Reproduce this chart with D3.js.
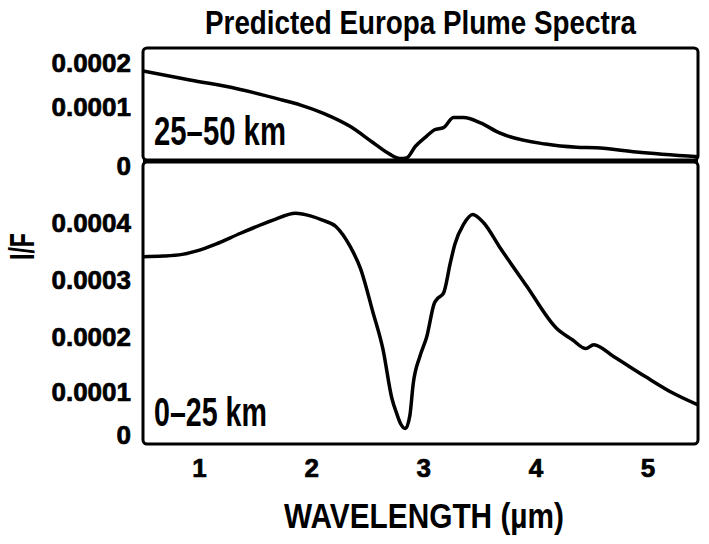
<!DOCTYPE html>
<html><head><meta charset="utf-8">
<script src="https://cdn.jsdelivr.net/npm/d3@7/dist/d3.min.js"></script>
<style>body{margin:0;background:#fff}</style>
</head><body><svg id="chart" width="709" height="544"></svg>
<script>
const title = "Predicted Europa Plume Spectra";
const xTitle = "WAVELENGTH (\u00b5m)";
const yTitle = "I/F";
const xTicks = [1, 2, 3, 4, 5];
const topTicks = [0, 0.0001, 0.0002];
const topTickLabels = ["0", "0.0001", "0.0002"];
const bottomTicks = [0, 0.0001, 0.0002, 0.0003, 0.0004];
const bottomTickLabels = ["0", "0.0001", "0.0002", "0.0003", "0.0004"];
const topLabel = "25\u201350 km";
const bottomLabel = "0\u201325 km";

const topWavelength = [0.50, 0.93, 1.33, 1.74, 1.90, 2.11, 2.35, 2.55, 2.70, 2.79, 2.85, 2.93, 3.03, 3.10, 3.18, 3.27, 3.36, 3.51, 3.68, 4.09, 4.37, 4.54, 4.90, 5.45];
const topIF = [0.000182, 0.000161, 0.000142, 0.000116, 0.000105, 0.000088, 0.000063, 0.000033, 0.000011, 0.000003, 0.000004, 0.000026, 0.000045, 0.000057, 0.000061, 0.000080, 0.000080, 0.000070, 0.000051, 0.000030, 0.000024, 0.000023, 0.000015, 0.000006];

const bottomWavelength = [0.50, 0.68, 0.85, 0.98, 1.15, 1.37, 1.66, 1.86, 2.00, 2.10, 2.22, 2.35, 2.44, 2.55, 2.64, 2.72, 2.76, 2.80, 2.84, 2.88, 2.91, 2.97, 3.03, 3.10, 3.13, 3.18, 3.24, 3.28, 3.36, 3.44, 3.54, 3.68, 3.92, 4.19, 4.33, 4.45, 4.52, 4.70, 4.98, 5.23, 5.45];
const bottomIF = [0.000341, 0.000342, 0.000345, 0.000351, 0.000363, 0.000382, 0.000405, 0.000417, 0.000412, 0.000405, 0.000394, 0.000358, 0.000320, 0.000244, 0.000178, 0.000085, 0.000052, 0.000025, 0.000015, 0.000045, 0.000115, 0.000165, 0.000200, 0.000260, 0.000268, 0.000277, 0.000329, 0.000362, 0.000398, 0.000415, 0.000400, 0.000358, 0.000290, 0.000215, 0.000195, 0.000179, 0.000186, 0.000164, 0.000128, 0.000097, 0.000070];

const svg = d3.select("#chart");
const L = 143, R = 698, T = 48, MID = 161, B = 444;
const x = d3.scaleLinear().domain([0.5, 5.45]).range([L, R]);
const yTop = d3.scaleLinear().domain(topTicks).range([160, 107, 63]);
const yBot = d3.scaleLinear().domain(bottomTicks).range([435, 392, 337, 280, 223]);

const defs = svg.append("defs");
defs.append("clipPath").attr("id", "clipTop").append("rect").attr("x", L).attr("y", T).attr("width", R - L).attr("height", MID - T + 1);
defs.append("clipPath").attr("id", "clipBot").append("rect").attr("x", L).attr("y", MID).attr("width", R - L).attr("height", B - MID);

const condensed = "'Liberation Sans', Arial, sans-serif";

// condensed text: measured, then squeezed horizontally to the target width
function squeezedText(str, cx, cy, size, width, anchor, rotate) {
  const t = svg.append("text").attr("text-anchor", anchor)
    .attr("font-family", condensed).attr("font-weight", "bold").attr("font-size", size).text(str);
  const len = t.node().getComputedTextLength();
  const s = width / len;
  t.attr("transform", `translate(${cx},${cy})${rotate ? " rotate(-90)" : ""} scale(${s},1)`);
  return t;
}

// Title
squeezedText(title, 420.5, 34, 34, 431, "middle", false);

// Frames
svg.append("rect").attr("x", L).attr("y", T).attr("width", R - L).attr("height", MID - 1 - T)
  .attr("rx", 4).attr("fill", "none").attr("stroke", "#000").attr("stroke-width", 3);
svg.append("rect").attr("x", L).attr("y", MID + 1).attr("width", R - L).attr("height", B - MID - 1)
  .attr("rx", 4).attr("fill", "none").attr("stroke", "#000").attr("stroke-width", 3);
svg.append("line").attr("x1", L).attr("x2", R).attr("y1", MID).attr("y2", MID)
  .attr("stroke", "#000").attr("stroke-width", 4);

// Curves
const lineTop = d3.line().x(d => x(d[0])).y(d => yTop(d[1])).curve(d3.curveMonotoneX);
const lineBot = d3.line().x(d => x(d[0])).y(d => yBot(d[1])).curve(d3.curveMonotoneX);
svg.append("path").attr("clip-path", "url(#clipTop)")
  .attr("d", lineTop(d3.zip(topWavelength, topIF)))
  .attr("fill", "none").attr("stroke", "#000").attr("stroke-width", 3.5).attr("stroke-linejoin", "round");
svg.append("path").attr("clip-path", "url(#clipBot)")
  .attr("d", lineBot(d3.zip(bottomWavelength, bottomIF)))
  .attr("fill", "none").attr("stroke", "#000").attr("stroke-width", 3.5).attr("stroke-linejoin", "round");

// Axes
function styleAxis(g) {
  g.select(".domain").remove();
  g.selectAll(".tick line").remove();
  g.selectAll(".tick text").attr("font-family", "'Liberation Sans', Arial, sans-serif")
    .attr("font-weight", "bold").attr("font-size", 26).attr("fill", "#000")
    .attr("stroke", "#000").attr("stroke-width", 0.7);
}
const gTop = svg.append("g").attr("transform", `translate(${L},0)`)
  .call(d3.axisLeft(yTop).tickValues(topTicks).tickSize(0).tickPadding(12).tickFormat((d, i) => topTickLabels[i]))
  .call(styleAxis);
gTop.selectAll(".tick text").filter(d => d === 0).attr("y", 6);
svg.append("g").attr("transform", `translate(${L},0)`)
  .call(d3.axisLeft(yBot).tickValues(bottomTicks).tickSize(0).tickPadding(12).tickFormat((d, i) => bottomTickLabels[i]))
  .call(styleAxis);
svg.append("g").attr("transform", `translate(0,${B})`)
  .call(d3.axisBottom(x).tickValues(xTicks).tickSize(0).tickPadding(15).tickFormat(d3.format("d")))
  .call(styleAxis);

// Axis titles
squeezedText(xTitle, 424, 528, 36, 280, "middle", false);
squeezedText(yTitle, 34, 246.5, 35, 27, "middle", true);

// Panel labels
squeezedText(topLabel, 154, 145, 40, 132, "start", false);
squeezedText(bottomLabel, 154, 426, 40, 113, "start", false);
</script></body></html>
